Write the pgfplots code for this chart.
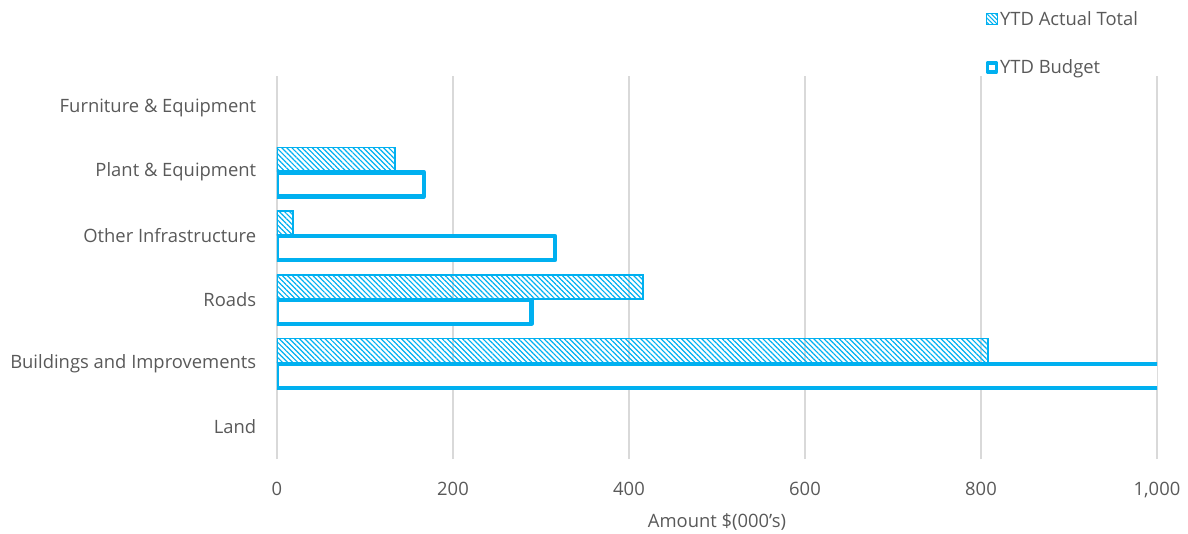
\documentclass[border=0pt]{standalone}
\usepackage{fontspec}
\setmainfont{Open Sans}
\usepackage{pgfplots}
\pgfplotsset{compat=1.18}
\usetikzlibrary{patterns.meta}
\definecolor{cy}{HTML}{00B0F0}
\definecolor{tx}{HTML}{595959}
\definecolor{gr}{HTML}{D9D9D9}
\begin{document}
\begin{tikzpicture}
\begin{axis}[
  scale only axis, width=880pt, height=383pt,
  xmin=0, xmax=1000, ymin=-0.5, ymax=5.5,
  xtick={0,200,...,1000}, ytick={0,...,5},
  yticklabels={Land, Buildings and Improvements, Roads, Other Infrastructure, Plant \& Equipment, Furniture \& Equipment},
  xmajorgrids, grid style={gr, line width=1.3pt},
  axis line style={draw=none}, major tick style={draw=none},
  tick label style={font=\fontsize{18.4}{22}\selectfont, text=tx},
  /pgf/number format/assume math mode=true,
  /pgf/number format/1000 sep={,},
  xticklabel style={yshift=-20pt},
  yticklabel style={xshift=-13pt},
  xlabel={Amount \$(000's)},
  xlabel style={font=\fontsize{18.4}{22}\selectfont, text=tx, yshift=-8pt},
  xbar, bar width=24pt,
  legend style={draw=none, fill=none, at={(rel axis cs:0.805,1.175)}, anchor=north west,
    font=\fontsize{18.4}{22}\selectfont, text=tx, row sep=29pt, inner sep=0pt},
  legend cell align=left,
]
\addplot[bar shift=12.5pt, draw=cy, line width=1.4pt,
  pattern={Lines[angle=-45, distance=3.6pt, line width=1.2pt]}, pattern color=cy,
  legend image code/.code={\draw[draw=cy, line width=1pt, pattern={Lines[angle=-45, distance=3pt, line width=1pt]}, pattern color=cy] (0.5pt,-5.5pt) rectangle (11.5pt,5.5pt);}]
  coordinates {(808,1) (416,2) (18,3) (134,4)};
\addlegendentry{YTD Actual Total}
\addplot[bar shift=-12.5pt, draw=cy, fill=white, line width=4.5pt, line join=round,
  legend image code/.code={\draw[draw=cy, fill=white, line width=3.5pt, line join=round] (1.5pt,-4.5pt) rectangle (10.5pt,4.5pt);}]
  coordinates {(1050,1) (289,2) (316,3) (167,4)};
\addlegendentry{YTD Budget}
\end{axis}
\pgfresetboundingbox
\path[use as bounding box] (-277pt,-74pt) rectangle (911pt,459pt);
\end{tikzpicture}
\end{document}
